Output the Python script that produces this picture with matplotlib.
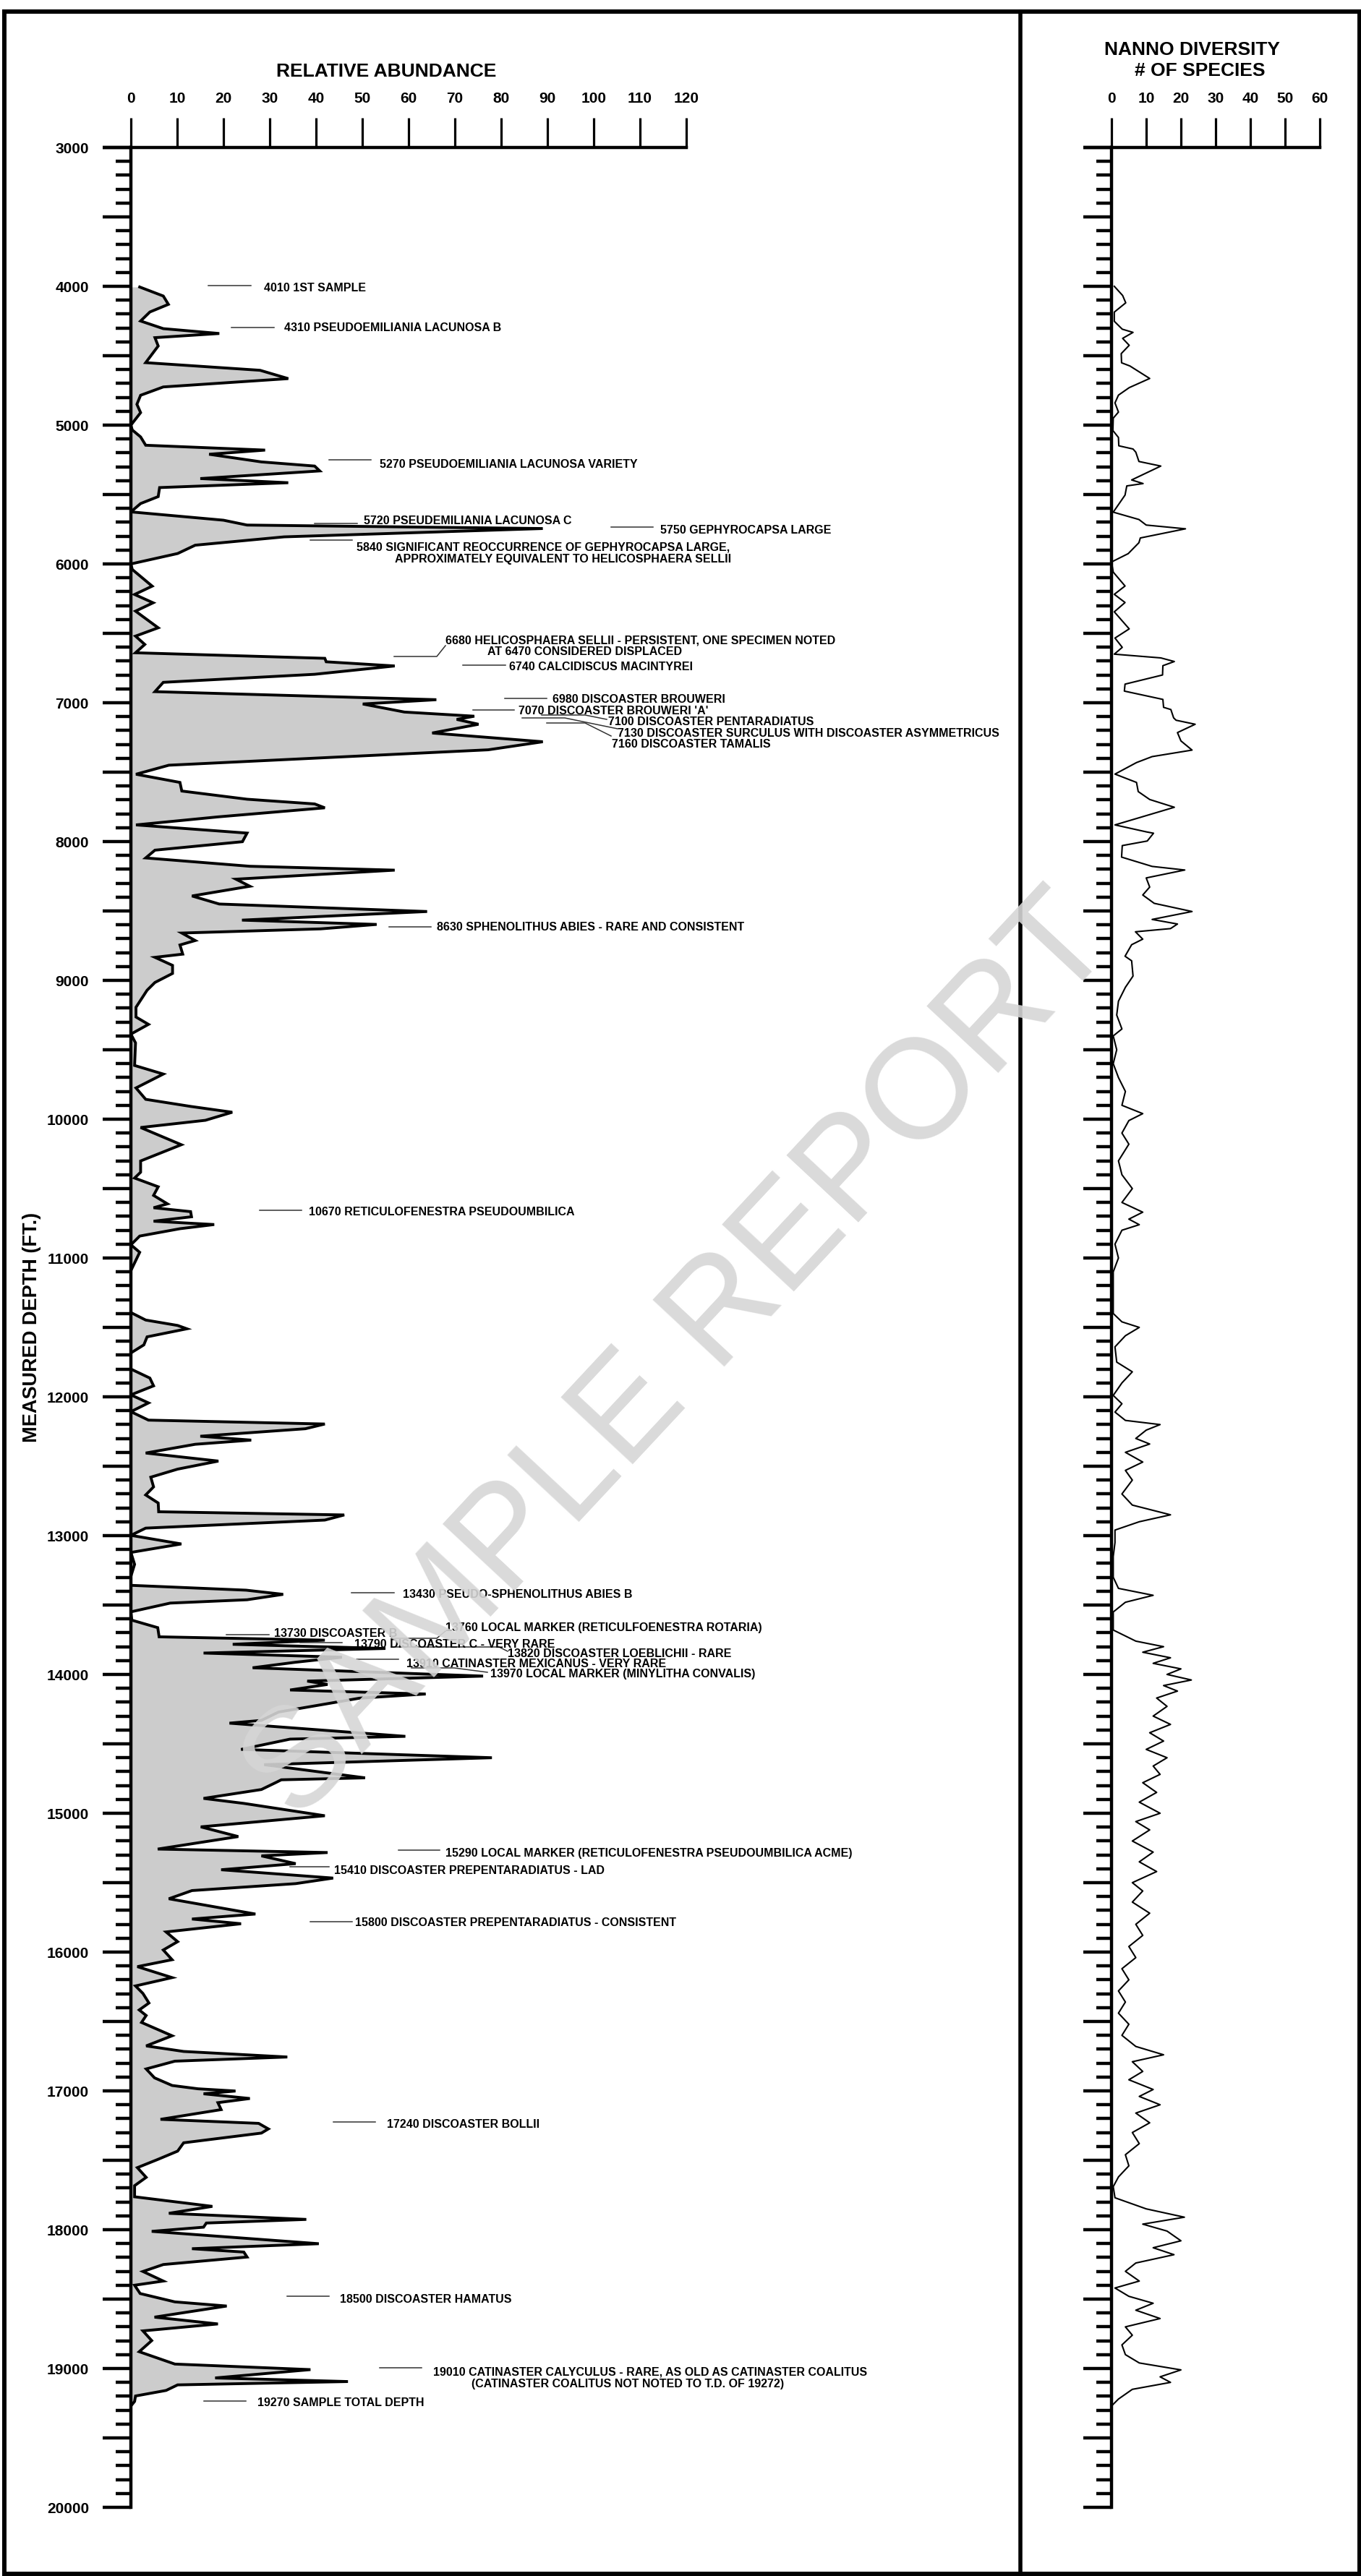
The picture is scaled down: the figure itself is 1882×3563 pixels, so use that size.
import matplotlib
matplotlib.use('Agg')
import matplotlib.pyplot as plt
from matplotlib.ticker import MultipleLocator, FuncFormatter
from matplotlib.patches import Rectangle

plt.rcParams['font.family'] = ['Liberation Sans', 'DejaVu Sans']
plt.rcParams['font.weight'] = 'bold'

# ---------------- data ----------------
abund_depth = [4005, 4070, 4130, 4185, 4250, 4305, 4340, 4370, 4430, 4550, 4605, 4665, 4725, 4785, 4850, 4910,
               5000, 5035, 5085, 5145, 5180, 5210, 5265, 5295, 5330, 5385, 5415, 5450, 5515, 5565, 5625, 5685,
               5720, 5745, 5805, 5865, 5925, 6000, 6040, 6160, 6220, 6280, 6340, 6460, 6520, 6580, 6640, 6680,
               6705, 6735, 6795, 6853, 6920, 6978, 7009, 7067, 7097, 7120, 7155, 7218, 7281, 7339, 7450, 7515,
               7574, 7636, 7695, 7729, 7757, 7822, 7880, 7939, 8001, 8062, 8118, 8178, 8206, 8271, 8322, 8392,
               8450, 8504, 8566, 8597, 8629, 8659, 8713, 8745, 8811, 8834, 8892, 8950, 9015, 9071, 9194, 9264,
               9317, 9387, 9450, 9613, 9675, 9775, 9857, 9908, 9950, 10008, 10060, 10184, 10301, 10382, 10424,
               10487, 10549, 10610, 10638, 10666, 10703, 10735, 10759, 10789, 10842, 10905, 10959, 11091, 11393,
               11447, 11486, 11510, 11568, 11626, 11684, 11800, 11865, 11921, 11986, 12044, 12107, 12168, 12196,
               12230, 12284, 12312, 12342, 12405, 12463, 12521, 12579, 12649, 12707, 12765, 12828, 12851, 12888,
               12946, 12998, 13060, 13121, 13207, 13293, 13358, 13393, 13423, 13462, 13486, 13549, 13609, 13663,
               13729, 13753, 13783, 13813, 13846, 13876, 13912, 13952, 14012, 14048, 14072, 14112, 14141, 14171,
               14271, 14331, 14351, 14446, 14466, 14540, 14600, 14650, 14745, 14759, 14779, 14829, 14893, 14929,
               15018, 15098, 15168, 15258, 15283, 15307, 15363, 15407, 15467, 15507, 15557, 15616, 15726, 15762,
               15796, 15855, 15925, 15985, 16055, 16105, 16184, 16244, 16298, 16367, 16417, 16457, 16507, 16603,
               16676, 16716, 16756, 16786, 16842, 16906, 16961, 16985, 17001, 17021, 17055, 17085, 17135, 17205,
               17234, 17274, 17304, 17374, 17434, 17494, 17553, 17623, 17683, 17763, 17832, 17882, 17926, 17952,
               17982, 18012, 18101, 18137, 18161, 18197, 18251, 18301, 18370, 18400, 18460, 18520, 18550, 18630,
               18679, 18729, 18799, 18879, 18968, 19008, 19068, 19094, 19118, 19158, 19198, 19237, 19270]
abund_value = [1.9, 7.0, 8.1, 4.1, 2.1, 7.0, 19.1, 5.2, 5.9, 3.2, 27.9, 34.0, 7.0, 2.1, 1.3, 2.1,
               0.0, 0.3, 2.1, 3.2, 29.0, 16.9, 28.2, 39.7, 40.8, 15.0, 34.0, 6.2, 5.9, 2.1, 0.0, 20.0,
               25.1, 89.0, 33.1, 13.9, 10.1, 0.0, 0.3, 4.6, 0.8, 4.8, 1.0, 5.9, 1.0, 3.0, 1.0, 41.9,
               42.2, 57.0, 39.7, 7.0, 5.2, 66.0, 50.1, 59.1, 74.2, 70.4, 75.1, 65.1, 89.0, 77.2, 8.2, 1.1,
               10.6, 11.0, 25.1, 39.7, 41.9, 18.9, 1.1, 25.1, 24.1, 5.2, 3.2, 25.7, 57.0, 22.7, 25.7, 13.2,
               19.1, 64.0, 24.0, 53.1, 41.0, 11.0, 13.9, 10.6, 11.2, 5.2, 9.0, 9.0, 5.2, 3.5, 1.1, 1.1,
               3.8, 0.0, 1.0, 0.8, 7.0, 1.1, 3.2, 12.9, 21.9, 16.1, 2.1, 10.9, 2.1, 2.1, 0.8,
               5.9, 4.9, 7.9, 4.9, 12.9, 13.1, 4.9, 18.0, 10.6, 1.9, 0.0, 1.9, 0.0, 0.0,
               3.2, 10.1, 12.1, 3.5, 2.8, 0.0, 0.0, 4.1, 4.9, 0.0, 3.8, 0.0, 3.8, 41.9,
               37.7, 15.0, 26.0, 13.9, 3.2, 18.9, 10.1, 4.3, 4.9, 3.2, 5.9, 6.0, 46.1, 41.9,
               3.2, 0.0, 10.9, 0.0, 0.8, 0.0, 0.0, 24.9, 32.9, 25.1, 8.5, 0.0, 0.2, 5.8,
               6.1, 41.9, 22.0, 55.0, 15.7, 45.6, 35.6, 26.3, 76.1, 38.1, 42.5, 34.4, 63.7, 49.4,
               31.9, 28.2, 21.3, 59.3, 34.4, 23.8, 78.0, 28.8, 50.6, 32.5, 31.3, 28.2, 15.7, 24.4,
               41.9, 15.1, 23.2, 5.8, 42.5, 28.2, 35.6, 19.5, 43.7, 35.6, 13.2, 8.2, 26.9, 13.2,
               23.8, 7.6, 10.1, 7.0, 8.9, 1.4, 8.9, 1.0, 2.6, 3.9, 1.8, 3.3, 2.3, 8.9,
               3.3, 11.4, 33.8, 9.5, 3.3, 5.1, 8.9, 14.5, 22.6, 15.7, 25.7, 18.8, 19.5, 6.4,
               27.6, 29.7, 28.2, 11.4, 10.1, 5.8, 1.4, 3.3, 0.8, 0.8, 17.6, 8.2, 37.9, 16.3,
               15.7, 4.5, 40.6, 13.2, 24.4, 25.1, 7.0, 2.6, 7.0, 0.8, 2.0, 9.5, 20.7, 5.1,
               18.8, 2.6, 4.5, 1.8, 9.5, 38.8, 18.2, 46.9, 10.1, 7.6, 1.0, 0.8, 0.0]

div_depth = [4000, 4066, 4119, 4186, 4252, 4309, 4332, 4375, 4425, 4485, 4551, 4574, 4664, 4730, 4784, 4840,
             4906, 4950, 5039, 5089, 5149, 5172, 5195, 5262, 5295, 5395, 5421, 5438, 5504, 5627, 5680, 5720,
             5747, 5813, 5847, 5926, 5986, 6059, 6159, 6219, 6278, 6345, 6468, 6534, 6601, 6650, 6677, 6703,
             6733, 6800, 6866, 6916, 6976, 7033, 7049, 7109, 7126, 7155, 7215, 7275, 7341, 7388, 7431, 7514,
             7574, 7640, 7697, 7753, 7880, 7930, 7940, 7996, 8029, 8112, 8179, 8205, 8262, 8328, 8385, 8445,
             8504, 8561, 8594, 8627, 8650, 8703, 8743, 8826, 8859, 8969, 9050, 9150, 9250, 9350, 9400, 9500,
             9600, 9700, 9800, 9900, 9960, 10010, 10100, 10180, 10300, 10400, 10500, 10600, 10670, 10720,
             10760, 10800, 10900, 11000, 11100, 11400, 11460, 11500, 11560, 11640, 11750, 11820, 11900, 11990,
             12050, 12110, 12170, 12200, 12240, 12300, 12340, 12400, 12470, 12530, 12600, 12700, 12780, 12850,
             12900, 12960, 13050, 13150, 13300, 13380, 13430, 13480, 13550, 13680, 13760, 13800, 13840, 13880,
             13920, 13960, 14000, 14040, 14080, 14120, 14170, 14230, 14300, 14360, 14420, 14480, 14540, 14600,
             14660, 14720, 14780, 14850, 14920, 15000, 15060, 15120, 15200, 15280, 15350, 15420, 15500, 15560,
             15640, 15720, 15800, 15880, 15960, 16040, 16120, 16200, 16280, 16360, 16440, 16520, 16600, 16680,
             16740, 16790, 16860, 16920, 16990, 17040, 17100, 17160, 17230, 17300, 17380, 17460, 17540, 17620,
             17690, 17770, 17850, 17910, 17960, 18010, 18080, 18130, 18180, 18240, 18300, 18370, 18420, 18480,
             18530, 18580, 18640, 18700, 18760, 18830, 18900, 18960, 19010, 19060, 19100, 19150, 19220, 19270]
div_value = [0.8, 3.2, 4.1, 0.8, 0.8, 3.1, 6.2, 3.2, 5.1, 2.8, 2.9, 5.3, 11.0, 5.1, 2.0, 1.0,
             2.0, 0.5, 0.4, 2.0, 2.1, 6.2, 7.0, 7.9, 14.2, 5.8, 9.1, 4.4, 3.9, 0.5, 7.9, 10.0,
             21.3, 8.3, 7.9, 4.8, 0.0, 0.5, 3.9, 0.8, 3.9, 0.8, 5.1, 1.0, 3.1, 0.8, 14.2, 18.1,
             14.8, 14.7, 3.9, 3.7, 14.8, 15.0, 17.1, 17.9, 18.6, 24.1, 19.0, 20.0, 23.2, 11.7, 7.2, 1.0,
             7.2, 7.7, 11.0, 18.1, 1.0, 10.0, 12.1, 10.3, 3.1, 2.9, 11.7, 21.1, 10.0, 11.0, 9.0, 12.3,
             23.2, 11.7, 19.0, 17.0, 6.9, 9.0, 5.8, 3.9, 5.8, 6.2, 4.0, 2.0, 1.5, 3.0, 0.5, 1.5,
             0.5, 2.0, 4.0, 3.0, 9.0, 5.0, 3.0, 5.0, 2.0, 3.0, 6.0, 3.0, 9.0, 5.0,
             8.0, 3.0, 1.0, 2.0, 0.5, 0.5, 3.0, 8.0, 4.0, 1.0, 1.5, 6.0, 3.0, 0.5,
             3.0, 1.0, 4.0, 14.0, 10.0, 7.0, 11.0, 4.0, 9.0, 4.0, 6.0, 3.0, 6.0, 17.0,
             8.0, 1.0, 1.0, 0.5, 0.5, 2.0, 12.0, 4.0, 0.5, 0.5, 7.0, 15.0, 9.0, 17.0,
             12.0, 20.0, 16.0, 23.0, 15.0, 19.0, 13.0, 16.0, 12.0, 17.0, 11.0, 15.0, 10.0, 16.0,
             12.0, 14.0, 9.0, 13.0, 8.0, 14.0, 7.0, 11.0, 6.0, 12.0, 8.0, 13.0, 6.0, 9.0,
             6.0, 11.0, 7.0, 9.0, 5.0, 7.0, 3.0, 5.0, 2.0, 4.0, 2.0, 5.0, 3.0, 7.0,
             15.0, 6.0, 9.0, 5.0, 12.0, 8.0, 14.0, 7.0, 11.0, 6.0, 8.0, 4.0, 5.0, 2.0,
             0.5, 1.0, 10.0, 21.0, 9.0, 16.0, 20.0, 12.0, 18.0, 7.0, 4.0, 8.0, 1.0, 5.0,
             12.0, 7.0, 14.0, 4.0, 6.0, 3.0, 4.0, 8.0, 20.0, 14.0, 17.0, 6.0, 2.0, 0.0]

abund_ticks = list(range(0, 121, 10))
div_ticks = list(range(0, 61, 10))
depth_min, depth_max = 3000, 20000

# annotations: (text lines, leader polyline in px, text anchor px)
annotations = [
    (["4010 1ST SAMPLE"], [(288, 395), (347, 395)], [(365, 397)]),
    (["4310 PSEUDOEMILIANIA LACUNOSA B"], [(320, 453), (379, 453)], [(393, 452)]),
    (["5270 PSEUDOEMILIANIA LACUNOSA VARIETY"], [(455, 636), (513, 636)], [(525, 641)]),
    (["5720 PSEUDEMILIANIA LACUNOSA C"], [(435, 724), (494, 724)], [(503, 719)]),
    (["5750 GEPHYROCAPSA LARGE"], [(845, 729), (903, 729)], [(913, 732)]),
    (["5840 SIGNIFICANT REOCCURRENCE OF GEPHYROCAPSA LARGE,",
      "APPROXIMATELY EQUIVALENT TO HELICOSPHAERA SELLII"],
     [(429, 747), (487, 747)], [(493, 756), (546, 772)]),
    (["6680 HELICOSPHAERA SELLII - PERSISTENT, ONE SPECIMEN NOTED",
      "AT 6470 CONSIDERED DISPLACED"],
     [(545, 908), (604, 908), (616, 893)], [(616, 885), (674, 900)]),
    (["6740 CALCIDISCUS MACINTYREI"], [(640, 920), (699, 920)], [(704, 921)]),
    (["6980 DISCOASTER BROUWERI"], [(698, 966), (756, 966)], [(764, 966)]),
    (["7070 DISCOASTER BROUWERI 'A'"], [(654, 982), (711, 982)], [(717, 982)]),
    (["7100 DISCOASTER PENTARADIATUS"], [(749, 989), (809, 989), (839, 995)], [(841, 997)]),
    (["7130 DISCOASTER SURCULUS WITH DISCOASTER ASYMMETRICUS"], [(722, 993), (781, 993), (854, 1008)], [(854, 1013)]),
    (["7160 DISCOASTER TAMALIS"], [(756, 1000), (809, 1000), (845, 1018)], [(846, 1028)]),
    (["8630 SPHENOLITHUS ABIES - RARE AND CONSISTENT"], [(538, 1282), (596, 1282)], [(604, 1281)]),
    (["10670 RETICULOFENESTRA PSEUDOUMBILICA"], [(359, 1674), (417, 1674)], [(427, 1675)]),
    (["13430 PSEUDO-SPHENOLITHUS ABIES B"], [(486, 2203), (545, 2203)], [(557, 2204)]),
    (["13730 DISCOASTER B"], [(313, 2261), (372, 2261)], [(379, 2258)]),
    (["13760 LOCAL MARKER (RETICULFOENESTRA ROTARIA)"], [(541, 2266), (604, 2266), (616, 2256)], [(616, 2250)]),
    (["13790 DISCOASTER C - VERY RARE"], [(415, 2272), (473, 2272)], [(490, 2273)]),
    (["13820 DISCOASTER LOEBLICHII - RARE"], [(541, 2278), (690, 2278), (702, 2284)], [(702, 2286)]),
    (["13910 CATINASTER MEXICANUS - VERY RARE"], [(493, 2295), (551, 2295)], [(562, 2300)]),
    (["13970 LOCAL MARKER (MINYLITHA CONVALIS)"], [(569, 2307), (628, 2307), (674, 2313)], [(678, 2314)]),
    (["15290 LOCAL MARKER (RETICULOFENESTRA PSEUDOUMBILICA ACME)"], [(551, 2559), (608, 2559)], [(616, 2562)]),
    (["15410 DISCOASTER PREPENTARADIATUS - LAD"], [(401, 2582), (455, 2582)], [(462, 2586)]),
    (["15800 DISCOASTER PREPENTARADIATUS - CONSISTENT"], [(429, 2658), (487, 2658)], [(491, 2658)]),
    (["17240 DISCOASTER BOLLII"], [(461, 2935), (519, 2935)], [(535, 2937)]),
    (["18500 DISCOASTER HAMATUS"], [(397, 3176), (455, 3176)], [(470, 3179)]),
    (["19010 CATINASTER CALYCULUS - RARE, AS OLD AS CATINASTER COALITUS",
      "(CATINASTER COALITUS NOT NOTED TO T.D. OF 19272)"],
     [(525, 3275), (583, 3275)], [(599, 3280), (652, 3296)]),
    (["19270 SAMPLE TOTAL DEPTH"], [(282, 3321), (340, 3321)], [(356, 3322)]),
]

# ---------------- figure ----------------
W, H = 1883, 3563
fig = plt.figure(figsize=(W / 100, H / 100), dpi=100)


def px_box(x0, x1, yt, yb):
    return [x0 / W, 1 - yb / H, (x1 - x0) / W, (yb - yt) / H]


def style_axis(ax, xmax, xticks, major_len_px=39, minor_len_px=21, label_y=True):
    ax.set_xlim(0, xmax)
    ax.set_ylim(depth_max, depth_min)
    ax.patch.set_visible(False)
    for s in ['right', 'bottom']:
        ax.spines[s].set_visible(False)
    for s in ['left', 'top']:
        ax.spines[s].set_linewidth(3.2)
        ax.spines[s].set_capstyle('projecting')
    ax.xaxis.set_ticks_position('top')
    ax.xaxis.set_label_position('top')
    ax.set_xticks(xticks)
    ax.tick_params(axis='x', direction='out', length=29.5, width=2.3, pad=12, labelsize=15)
    ax.yaxis.set_major_locator(MultipleLocator(500))
    ax.yaxis.set_minor_locator(MultipleLocator(100))
    if label_y:
        ax.yaxis.set_major_formatter(FuncFormatter(lambda v, p: f"{int(v)}" if v % 1000 == 0 else ""))
    else:
        ax.yaxis.set_major_formatter(FuncFormatter(lambda v, p: ""))
    ax.tick_params(axis='y', which='major', direction='out', length=major_len_px * 0.72, width=3.2,
                   pad=13.7, labelsize=15)
    ax.tick_params(axis='y', which='minor', direction='out', length=minor_len_px * 0.72, width=3.2)
    # top line extended to the left over the major tick length
    bbox_w = ax.get_position().width * W
    ax.plot([-major_len_px / bbox_w, 0], [1, 1], transform=ax.transAxes, color='black', lw=3.2,
            clip_on=False, solid_capstyle='butt')


axL = fig.add_axes(px_box(181, 949, 204, 3468))
axR = fig.add_axes(px_box(1537, 1825, 204, 3468))

style_axis(axL, 120, abund_ticks, label_y=True)
style_axis(axR, 60, div_ticks, label_y=False)

axL.fill_betweenx(abund_depth, 0, abund_value, color='#cccccc', lw=0, zorder=1)
axL.plot(abund_value, abund_depth, color='black', lw=2.8, solid_joinstyle='miter', zorder=2)
axR.plot(div_value, div_depth, color='black', lw=1.5, zorder=2)

# overlay in pixel coordinates
axO = fig.add_axes([0, 0, 1, 1])
axO.set_xlim(0, W)
axO.set_ylim(H, 0)
axO.axis('off')

# frame
axO.add_patch(Rectangle((6, 16), 1874, 3544, fill=False, ec='black', lw=4.3))
axO.plot([1411, 1411], [16, 3563], color='black', lw=4.0)

# titles
axO.text(534, 106, 'RELATIVE ABUNDANCE', ha='center', va='baseline', fontsize=19, fontweight='bold')
axO.text(1648, 76, 'NANNO DIVERSITY', ha='center', va='baseline', fontsize=19, fontweight='bold')
axO.text(1659, 105, '# OF SPECIES', ha='center', va='baseline', fontsize=19, fontweight='bold')
axO.text(44, 1836, 'MEASURED DEPTH (FT.)', ha='center', va='center', rotation=90, fontsize=19.5,
         fontweight='bold')

# annotations
for lines, leader, anchors in annotations:
    xs = [p[0] for p in leader]
    ys = [p[1] for p in leader]
    axO.plot(xs, ys, color='#333333', lw=1.1, zorder=5)
    for t, (tx, ty) in zip(lines, anchors):
        axO.text(tx, ty + 5.8, t, ha='left', va='baseline', fontsize=11.5, fontweight='bold', zorder=6)

# watermark
axO.text(941, 1880, 'SAMPLE REPORT', ha='center', va='center', rotation=47, fontsize=141,
         fontweight='normal', color='#d6d6d6', alpha=0.9, zorder=10)

fig.savefig('out.png', dpi=100)
